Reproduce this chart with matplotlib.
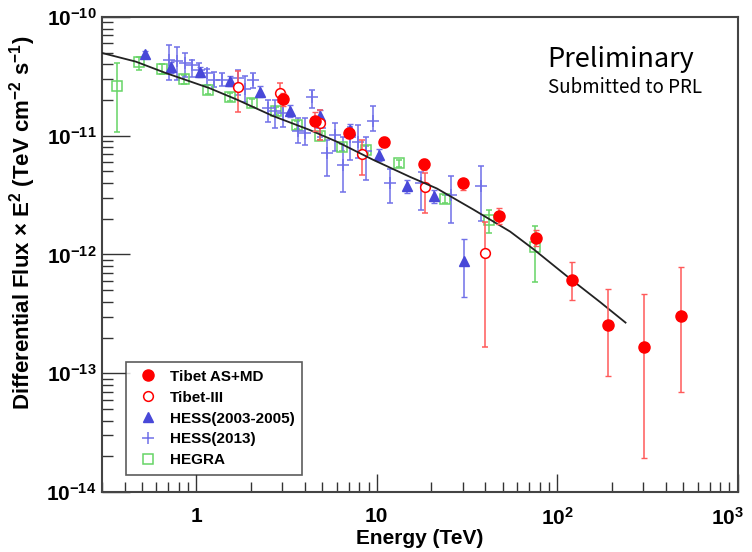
import matplotlib
matplotlib.use('Agg')
import matplotlib.pyplot as plt
import matplotlib.transforms as mtransforms
import numpy as np
from matplotlib.lines import Line2D
from matplotlib.ticker import FuncFormatter, FixedLocator, LogLocator, NullFormatter

plt.rcParams['font.family'] = ['Liberation Sans', 'DejaVu Sans']
plt.rcParams['font.weight'] = 'bold'
plt.rcParams['mathtext.default'] = 'regular'

# Tibet AS+MD (filled red circles)
asmd_e = [3.02, 4.56, 7.02, 11.0, 18.2, 29.9, 47.8, 76.2, 121, 192, 304, 487]
asmd_f = [2.03e-11, 1.32e-11, 1.05e-11, 8.79e-12, 5.78e-12, 4.0e-12, 2.13e-12,
          1.38e-12, 6.05e-13, 2.55e-13, 1.65e-13, 3.03e-13]
asmd_lo = [1.79e-11, 1.10e-11, 9.61e-12, 8.1e-12, 5.18e-12, 3.47e-12, 1.82e-12,
           1.17e-12, 4.11e-13, 9.44e-14, 1.94e-14, 6.89e-14]
asmd_hi = [2.30e-11, 1.59e-11, 1.17e-11, 9.8e-12, 6.36e-12, 4.27e-12, 2.44e-12,
           1.62e-12, 8.57e-13, 5.08e-13, 4.64e-13, 7.81e-13]

# Tibet-III (open red circles)
t3_e = [1.71, 2.89, 4.87, 8.26, 18.5, 39.7]
t3_f = [2.55e-11, 2.29e-11, 1.28e-11, 7.06e-12, 3.68e-12, 1.03e-12]
t3_lo = [1.60e-11, 1.94e-11, 9.26e-12, 4.7e-12, 2.24e-12, 1.67e-13]
t3_hi = [3.52e-11, 2.77e-11, 1.65e-11, 9.26e-12, 4.86e-12, 1.89e-12]

# HESS 2003-2005 (triangles)
h05_e = [0.519, 0.723, 1.05, 1.54, 2.26, 3.29, 4.87, 7.14, 10.3, 14.7, 20.8, 30.5]
h05_f = [4.86e-11, 3.82e-11, 3.47e-11, 2.90e-11, 2.33e-11, 1.63e-11, 1.47e-11,
         1.11e-11, 6.92e-12, 3.75e-12, 3.09e-12, 8.8e-13]
h05_lo = [4.5e-11, 3.4e-11, 3.1e-11, 2.6e-11, 2.1e-11, 1.45e-11, 1.3e-11,
          9.8e-12, 6.1e-12, 3.3e-12, 2.7e-12, 4.38e-13]
h05_hi = [5.2e-11, 4.2e-11, 3.8e-11, 3.2e-11, 2.6e-11, 1.8e-11, 1.65e-11,
          1.25e-11, 7.8e-12, 4.2e-12, 3.5e-12, 1.36e-12]

# HESS 2013 (crosses)
h13_e = [0.708, 0.782, 0.865, 0.946, 1.04, 1.15, 1.26, 1.39, 1.70, 1.86, 2.05,
         2.49, 2.74, 3.02, 3.67, 4.02, 4.39, 4.87, 5.32, 5.90, 6.50, 7.14, 7.87,
         8.69, 9.53, 11.9, 17.6, 25.8, 37.9]
h13_f = [4.35e-11, 4.3e-11, 4.08e-11, 3.95e-11, 3.59e-11, 3.37e-11, 2.96e-11,
         2.96e-11, 3.07e-11, 2.47e-11, 2.92e-11, 1.72e-11, 1.62e-11, 1.55e-11,
         1.09e-11, 1.05e-11, 2.14e-11, 1.17e-11, 7.16e-12, 1.02e-11, 5.71e-12,
         9.8e-12, 8.91e-12, 7.38e-12, 1.34e-11, 4.0e-12, 4.03e-12, 3.19e-12,
         3.80e-12]
h13_lo = [2.96e-11, 2.96e-11, 3.15e-11, 3.15e-11, 3.15e-11, 2.69e-11, 2.58e-11,
          2.63e-11, 2.21e-11, 1.93e-11, 2.52e-11, 1.31e-11, 1.17e-11, 1.19e-11,
          8.73e-12, 8.29e-12, 1.71e-11, 9.8e-12, 4.61e-12, 7.38e-12, 3.39e-12,
          6.28e-12, 6.5e-12, 4.27e-12, 1.09e-11, 2.72e-12, 2.36e-12, 1.85e-12,
          1.91e-12]
h13_hi = [5.82e-11, 5.6e-11, 5.01e-11, 4.35e-11, 4.08e-11, 3.63e-11, 3.47e-11,
          3.38e-11, 3.59e-11, 3.19e-11, 3.38e-11, 2.01e-11, 2.01e-11, 1.89e-11,
          1.42e-11, 1.42e-11, 2.44e-11, 1.65e-11, 9.26e-12, 1.29e-11, 9.8e-12,
          1.19e-11, 1.24e-11, 9.75e-12, 1.79e-11, 5.25e-12, 4.91e-12, 4.61e-12,
          5.52e-12]

# HEGRA (open squares)
hegra_e = [0.362, 0.482, 0.645, 0.858, 1.156, 1.54, 2.04, 2.75, 3.63, 4.87,
           6.45, 8.69, 13.3, 23.9, 42.0, 75.5]
hegra_f = [2.60e-11, 4.16e-11, 3.66e-11, 3.0e-11, 2.44e-11, 2.11e-11, 1.88e-11,
           1.63e-11, 1.24e-11, 9.87e-12, 8.04e-12, 7.62e-12, 5.9e-12, 2.94e-12,
           1.97e-12, 1.16e-12]
hegra_lo = [1.07e-11, 3.59e-11, 3.3e-11, 2.75e-11, 2.25e-11, 1.95e-11, 1.74e-11,
            1.5e-11, 1.15e-11, 9.2e-12, 7.5e-12, 7.1e-12, 5.5e-12, 2.7e-12,
            1.52e-12, 5.9e-13]
hegra_hi = [4.13e-11, 4.64e-11, 4.0e-11, 3.25e-11, 2.65e-11, 2.3e-11, 2.03e-11,
            1.76e-11, 1.34e-11, 1.06e-11, 8.6e-12, 8.2e-12, 6.3e-12, 3.2e-12,
            2.39e-12, 1.73e-12]

# fitted curve
fit_e = [0.30, 0.462, 0.679, 1.18, 1.66, 2.65, 4.24, 5.97, 9.53, 15.3, 21.5,
         34.3, 54.8, 73.8, 113, 173, 239]
fit_f = [4.98e-11, 4.21e-11, 3.37e-11, 2.52e-11, 2.03e-11, 1.47e-11, 1.12e-11,
         8.95e-12, 6.28e-12, 4.5e-12, 3.6e-12, 2.39e-12, 1.56e-12, 1.11e-12,
         6.58e-13, 3.97e-13, 2.67e-13]

x_major = [1, 10, 100, 1000]
y_major = [1e-14, 1e-13, 1e-12, 1e-11, 1e-10]


def yerr(f, lo, hi):
    f = np.array(f)
    return [f - np.array(lo), np.array(hi) - f]


fig = plt.figure(figsize=(7.52, 5.52), dpi=100)
ax = fig.add_axes([0.1356, 0.1087, 0.8454, 0.8605])
ax.set_xscale('log')
ax.set_yscale('log')

red = '#ff0000'
red_e = '#ff5a5a'
blue = '#4848d8'
blue_e = '#7070e8'
green = '#66d466'

ax.plot(fit_e, fit_f, color='#222222', lw=1.3, zorder=5)

ax.errorbar(hegra_e, hegra_f, yerr=yerr(hegra_f, hegra_lo, hegra_hi), fmt='s',
            ms=7.5, mfc='none', mec=green, mew=1.1, ecolor=green, elinewidth=1.1,
            capsize=2, capthick=1, zorder=3)
ax.errorbar(h13_e, h13_f, yerr=yerr(h13_f, h13_lo, h13_hi), fmt='+',
            ms=8, mec=blue_e, mew=1.1, ecolor=blue_e, elinewidth=1.1,
            capsize=2, capthick=1, zorder=3)
ax.errorbar(h05_e, h05_f, yerr=yerr(h05_f, h05_lo, h05_hi), fmt='^',
            ms=7, color=blue, ecolor=blue_e, elinewidth=1.1,
            capsize=2, capthick=1, zorder=4)
ax.errorbar(t3_e, t3_f, yerr=yerr(t3_f, t3_lo, t3_hi), fmt='o',
            ms=7, mfc='white', mec=red, mew=1.1, ecolor=red_e, elinewidth=1.1,
            capsize=2, capthick=1, zorder=4)
ax.errorbar(asmd_e, asmd_f, yerr=yerr(asmd_f, asmd_lo, asmd_hi), fmt='o',
            ms=8, color=red, ecolor=red_e, elinewidth=1.1,
            capsize=2, capthick=1, zorder=6)

ax.set_xlim(0.3, 1000)
ax.set_ylim(1e-14, 1e-10)

ax.xaxis.set_major_locator(FixedLocator(x_major))
ax.xaxis.set_minor_locator(LogLocator(base=10, subs=np.arange(2, 10), numticks=20))
ax.xaxis.set_minor_formatter(NullFormatter())


def xfmt(v, pos):
    n = int(round(np.log10(v)))
    if n == 0:
        return '1'
    if n == 1:
        return '10'
    return r'$10^{%d}$' % n


def yfmt(v, pos):
    return r'$10^{%d}$' % int(round(np.log10(v)))


ax.xaxis.set_major_formatter(FuncFormatter(xfmt))
ax.yaxis.set_major_locator(FixedLocator(y_major))
ax.yaxis.set_major_formatter(FuncFormatter(yfmt))
ax.yaxis.set_minor_locator(LogLocator(base=10, subs=np.arange(2, 10), numticks=20))
ax.yaxis.set_minor_formatter(NullFormatter())

ax.tick_params(which='both', direction='in', top=False, right=False,
               color='#333333', labelsize=15)
ax.tick_params(axis='x', which='major', length=13, width=1, pad=11)
ax.tick_params(axis='x', which='minor', length=7, width=1)
ax.tick_params(axis='y', which='major', length=20, width=1, pad=4)
ax.tick_params(axis='y', which='minor', length=8, width=1)
for s in ax.spines.values():
    s.set_color('#444444')
    s.set_linewidth(1.5)

ax.set_xlabel('Energy (TeV)', fontsize=15, fontweight='bold', labelpad=0)
fig.text(0.03, 0.596, r'Differential Flux $\times$ E$^{2}$ (TeV cm$^{-2}$ s$^{-1}$)',
         rotation=90, ha='center', va='center', fontsize=16, fontweight='bold')

ax.text(0.701, 0.895, 'Preliminary', transform=ax.transAxes, fontsize=19.5,
        fontweight='normal', va='baseline',
        family=['Noto Sans CJK JP', 'DejaVu Sans'])
ax.text(0.701, 0.840, 'Submitted to PRL', transform=ax.transAxes, fontsize=13.5,
        fontweight='normal', va='baseline',
        family=['Noto Sans CJK JP', 'DejaVu Sans'])

handles = [
    Line2D([], [], ls='none', marker='o', ms=8, color=red),
    Line2D([], [], ls='none', marker='o', ms=7, mfc='white', mec=red, mew=1.1),
    Line2D([], [], ls='none', marker='^', ms=7, color=blue),
    Line2D([], [], ls='none', marker='+', ms=8, mec=blue_e, mew=1.1),
    Line2D([], [], ls='none', marker='s', ms=7.5, mfc='none', mec=green, mew=1.1),
]
labels = ['Tibet AS+MD', 'Tibet-III', 'HESS(2003-2005)', 'HESS(2013)', 'HEGRA']
leg = ax.legend(handles, labels, loc='lower left', mode='expand',
                bbox_to_anchor=(0.0377, 0.036, 0.2767, 0.242), borderaxespad=0,
                frameon=True, fancybox=False, edgecolor='#333333',
                prop={'weight': 'bold', 'size': 11}, labelspacing=0.45,
                handletextpad=0.5, borderpad=0.5, handlelength=1.9)
leg.get_frame().set_linewidth(1.2)

# nudge the last x label (10^3) left so it stays inside the picture
fig.canvas.draw()
last = ax.xaxis.get_major_ticks()[-1].label1
last.set_transform(last.get_transform() +
                   mtransforms.ScaledTranslation(-7 / 72, 0, fig.dpi_scale_trans))

plt.savefig('out.png', dpi=100)
